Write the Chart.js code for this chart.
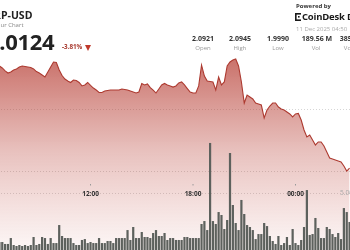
<!DOCTYPE html>
<html>
<head>
<meta charset="utf-8">
<script src="https://cdn.jsdelivr.net/npm/chart.js@4.4.1/dist/chart.umd.min.js"></script>
<style>
  html, body { margin: 0; padding: 0; background: #fff; overflow: hidden; }
  body { width: 350px; height: 250px; position: relative; font-family: 'Open Sans', sans-serif; color: #222; }
  #wrap { position: absolute; left: -2px; top: 0; width: 353px; height: 250px; }
  .t { position: absolute; white-space: nowrap; line-height: 1; }
  .sym { left: -13px; top: 10px; font-size: 10.5px; font-weight: 700; }
  .sub { left: -16px; top: 22px; font-size: 6px; color: #888; }
  .big { left: -13px; top: 30px; font-size: 22px; font-weight: 700; letter-spacing: -0.3px; }
  .chg { left: 62px; top: 44px; font-size: 6.3px; font-weight: 700; color: #a8392e; }
  .tri { position: absolute; left: 85px; top: 44.5px; width: 0; height: 0;
         border-left: 3.5px solid transparent; border-right: 3.5px solid transparent; border-top: 6px solid #c0392b; }
  .val { top: 35px; font-size: 7px; font-weight: 700; transform: translateX(-50%); color: #333; }
  .lab { top: 45px; font-size: 6px; color: #999; transform: translateX(-50%); }
  .pow { left: 296px; top: 2.5px; font-size: 6px; font-weight: 700; color: #333; }
  .logo { left: 302px; top: 12px; font-size: 9.5px; font-weight: 700; color: #1a1a1a; letter-spacing: -0.2px; }
  .date { left: 296px; top: 26px; font-size: 6px; color: #aaa; }
  #icon { position: absolute; left: 295px; top: 13px; }
</style>
</head>
<body>
<div id="wrap"><canvas id="xrpChart" width="353" height="250"></canvas></div>

<div class="t sym">XRP-USD</div>
<div class="t sub">24 Hour Chart</div>
<div class="t big">2.0124</div>
<div class="t chg">-3.81%</div>
<div class="tri"></div>

<div class="t val" style="left:203px">2.0921</div>
<div class="t lab" style="left:203px">Open</div>
<div class="t val" style="left:240px">2.0945</div>
<div class="t lab" style="left:240px">High</div>
<div class="t val" style="left:278px">1.9990</div>
<div class="t lab" style="left:278px">Low</div>
<div class="t val" style="left:317px">189.56 M</div>
<div class="t lab" style="left:316px">Vol</div>
<div class="t val" style="left:355px">385.44 M</div>
<div class="t lab" style="left:355px">Vol USD</div>

<div class="t pow">Powered by</div>
<svg id="icon" width="6" height="8" viewBox="0 0 6 8">
  <rect x="0" y="0" width="6" height="1.6" fill="#1a1a1a"/>
  <rect x="0" y="0" width="1.6" height="8" fill="#1a1a1a"/>
  <rect x="0" y="6.4" width="6" height="1.6" fill="#1a1a1a"/>
  <rect x="3" y="3" width="1.6" height="1.6" fill="#1a1a1a"/>
</svg>
<div class="t logo">CoinDesk Data</div>
<div class="t date">11 Dec 2025 04:50</div>

<script>
// 10 minute slots, first visible slot 06:40
const firstSlot = 6 * 60 + 40;
const slotMinutes = 10;
const slotCount = 124;

const timeTicks = ['12:00', '18:00', '00:00'];
const priceGrid = [2.00, 2.05];
const volumeGrid = [5];
const volumeTickLabels = ['5.00M'];

const prices = [
    2.0855, 2.0839, 2.0815, 2.0798, 2.0806, 2.0823, 2.0831, 2.0847, 2.0855, 2.0851,
    2.0847, 2.0843, 2.0831, 2.0810, 2.0798, 2.0782, 2.0766, 2.0806, 2.0847, 2.0887,
    2.0883, 2.0823, 2.0778, 2.0750, 2.0734, 2.0722, 2.0742, 2.0738, 2.0722, 2.0694,
    2.0702, 2.0722, 2.0698, 2.0677, 2.0661, 2.0641, 2.0641, 2.0653, 2.0657, 2.0661,
    2.0661, 2.0661, 2.0661, 2.0669, 2.0665, 2.0661, 2.0653, 2.0645, 2.0637, 2.0645,
    2.0714, 2.0702, 2.0710, 2.0681, 2.0661, 2.0637, 2.0669, 2.0702, 2.0714, 2.0702,
    2.0694, 2.0685, 2.0694, 2.0718, 2.0726, 2.0702, 2.0673, 2.0645, 2.0637, 2.0637,
    2.0694, 2.0863, 2.0774, 2.0734, 2.0730, 2.0726, 2.0661, 2.0766, 2.0702, 2.0726,
    2.0855, 2.0887, 2.0903, 2.0911, 2.0855, 2.0726, 2.0556, 2.0621, 2.0605, 2.0589,
    2.0556, 2.0548, 2.0540, 2.0435, 2.0500, 2.0532, 2.0556, 2.0556, 2.0524, 2.0508,
    2.0500, 2.0484, 2.0468, 2.0444, 2.0468, 2.0472, 2.0419, 2.0339, 2.0282, 2.0298,
    2.0258, 2.0218, 2.0242, 2.0242, 2.0210, 2.0161, 2.0113, 2.0105, 2.0097, 2.0089,
    2.0081, 2.0048, 2.0008, 2.0032
];

// volume per slot, millions
const volumes = [
    0.70, 0.70, 0.53, 0.53, 1.05, 0.44, 0.35, 0.44, 0.35, 0.44,
    0.35, 0.44, 1.14, 0.44, 0.53, 1.14, 1.05, 0.53, 1.05, 0.61,
    0.61, 2.19, 1.23, 1.05, 1.05, 1.05, 0.61, 0.44, 0.44, 0.88,
    0.96, 0.61, 0.70, 0.61, 0.61, 1.05, 0.61, 0.61, 0.79, 0.79,
    0.61, 1.05, 1.05, 1.05, 1.05, 1.75, 0.88, 2.02, 1.05, 1.05,
    1.58, 1.14, 1.14, 1.05, 1.49, 1.75, 1.23, 1.23, 1.49, 0.88,
    1.05, 1.05, 0.88, 0.88, 0.88, 1.14, 1.14, 1.05, 1.05, 1.05,
    1.05, 2.28, 2.54, 1.75, 9.39, 2.54, 2.28, 3.33, 3.07, 1.84,
    2.63, 8.51, 3.95, 2.37, 1.75, 4.39, 3.16, 2.19, 2.02, 1.75,
    0.96, 1.40, 1.40, 2.37, 2.10, 1.23, 0.79, 0.53, 1.23, 0.44,
    0.61, 1.14, 0.44, 1.84, 0.61, 0.44, 0.88, 2.02, 5.26, 1.32,
    1.40, 2.81, 1.93, 1.05, 1.05, 2.02, 1.84, 1.40, 1.14, 1.49,
    0.96, 3.68, 3.33, 2.46
];

const slotLabels = [];
for (let i = 0; i < slotCount; i++) {
    const m = (firstSlot + i * slotMinutes) % (24 * 60);
    slotLabels.push(String(Math.floor(m / 60)).padStart(2, '0') + ':' + String(m % 60).padStart(2, '0'));
}

// etiquetas de hora y de volumen dentro del área
const overlayLabels = {
    id: 'overlayLabels',
    afterDraw(chart) {
        const ctx = chart.ctx;
        const x = chart.scales.x;
        const y2 = chart.scales.y2;
        ctx.save();
        ctx.font = "bold 6.5px 'Open Sans'";
        ctx.textAlign = 'center';
        ctx.textBaseline = 'middle';
        timeTicks.forEach(function(t) {
            const px = x.getPixelForValue(slotLabels.indexOf(t));
            ctx.fillStyle = '#999';
            ctx.fillRect(px - 0.5, 184, 1, 1.5);
            ctx.fillStyle = '#333';
            ctx.fillText(t, px, 194);
        });
        ctx.font = "6.5px 'Open Sans'";
        ctx.textAlign = 'left';
        ctx.fillStyle = '#aaa';
        volumeGrid.forEach(function(v, i) {
            ctx.fillText(volumeTickLabels[i], 342, y2.getPixelForValue(v));
        });
        ctx.restore();
    }
};

const dottedGrid = { drawTicks: false, color: 'rgba(0, 0, 0, 0.16)', lineWidth: 1 };
const dottedBorder = { display: false, dash: [1, 2] };

new Chart(document.getElementById('xrpChart'), {
    type: 'bar',
    data: {
        labels: slotLabels,
        datasets: [{
            type: 'line',
            data: prices,
            yAxisID: 'y',
            order: 1,
            borderColor: '#ad3a30',
            borderWidth: 1.1,
            pointRadius: 0,
            tension: 0,
            fill: 'start',
            backgroundColor: function(context) {
                const area = context.chart.chartArea;
                if (!area) return null;
                const g = context.chart.ctx.createLinearGradient(0, 55, 0, area.bottom);
                g.addColorStop(0, 'rgba(180, 55, 45, 0.72)');
                g.addColorStop(0.5, 'rgba(185, 65, 55, 0.32)');
                g.addColorStop(1, 'rgba(200, 90, 80, 0.05)');
                return g;
            }
        }, {
            type: 'bar',
            data: volumes,
            yAxisID: 'y2',
            order: 0,
            backgroundColor: '#5d615d',
            barPercentage: 0.78,
            categoryPercentage: 1.0
        }]
    },
    options: {
        responsive: false,
        animation: false,
        layout: { padding: 0 },
        plugins: {
            legend: { display: false },
            tooltip: { enabled: false }
        },
        scales: {
            x: {
                display: false,
                offset: true
            },
            y: {
                min: 1.9371,
                max: 2.1387,
                position: 'left',
                afterBuildTicks: function(scale) {
                    scale.ticks = priceGrid.map(function(v) { return { value: v }; });
                },
                ticks: { display: false },
                border: dottedBorder,
                grid: dottedGrid
            },
            y2: {
                min: 0,
                max: 21.93,
                position: 'right',
                afterBuildTicks: function(scale) {
                    scale.ticks = volumeGrid.map(function(v) { return { value: v }; });
                },
                ticks: { display: false },
                border: dottedBorder,
                grid: dottedGrid
            }
        }
    },
    plugins: [overlayLabels]
});
</script>
</body>
</html>
